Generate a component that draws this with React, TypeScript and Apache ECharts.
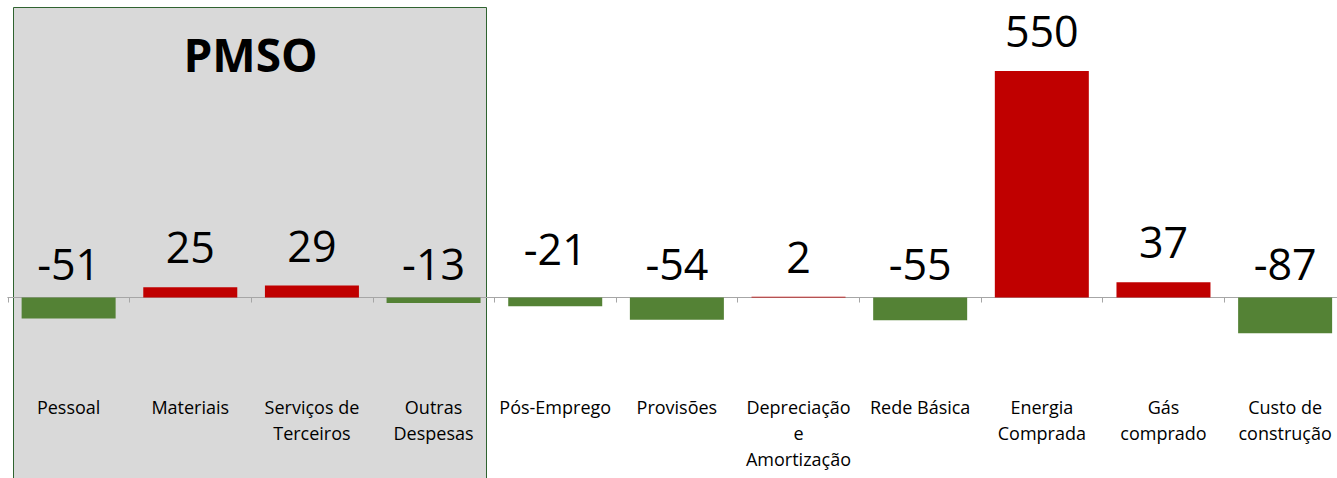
import React, { useEffect, useRef } from "react";
import * as echarts from "echarts";

const categories = [
  "Pessoal",
  "Materiais",
  "Serviços de\nTerceiros",
  "Outras\nDespesas",
  "Pós-Emprego",
  "Provisões",
  "Depreciação\ne\nAmortização",
  "Rede Básica",
  "Energia\nComprada",
  "Gás\ncomprado",
  "Custo de\nconstrução",
];
const values = [-51, 25, 29, -13, -21, -54, 2, -55, 550, 37, -87];
const groupTitle = "PMSO";

const RED = "#c00000";
const GREEN = "#548235";
const FONT = "'Open Sans', 'Noto Sans', sans-serif";

export default function App() {
  const ref = useRef<HTMLDivElement>(null);

  useEffect(() => {
    if (!ref.current) return;
    const chart = echarts.init(ref.current, null, { renderer: "svg" });

    const data = values.map((v, i) => {
      const item: any = {
        value: v,
        itemStyle: { color: v >= 0 ? RED : GREEN },
        label: { distance: v >= 0 ? 19 : 13 },
      };
      if (categories[i] === "Pós-Emprego") item.label = { distance: 28 };
      return item;
    });

    const catW = 121.65;
    chart.setOption({
      animation: false,
      backgroundColor: "#ffffff",
      grid: {
        left: 7.8,
        width: catW * categories.length,
        top: 50.5,
        height: 288.2,
        containLabel: false,
        outerBoundsMode: "none",
      },
      graphic: [
        {
          type: "rect",
          z: -10,
          silent: true,
          shape: { x: 13.5, y: 7.5, width: 473, height: 490 },
          style: { fill: "#d9d9d9", stroke: "#2f6330", lineWidth: 1 },
        },
        {
          type: "text",
          z: -9,
          silent: true,
          x: 250.5,
          y: 54,
          style: {
            text: groupTitle,
            font: `bold 46px ${FONT}`,
            fill: "#000000",
            align: "center",
            verticalAlign: "middle",
          },
        },
      ],
      xAxis: {
        type: "category",
        data: categories,
        axisLine: { show: true, onZero: true, lineStyle: { color: "#a6a6a6", width: 1 } },
        axisTick: { show: true, length: 5, alignWithLabel: false, interval: 0, lineStyle: { color: "#a6a6a6" } },
        axisLabel: {
          interval: 0,
          margin: 55,
          color: "#000000",
          fontFamily: FONT,
          fontSize: 18,
          lineHeight: 26,
          align: "center",
          verticalAlign: "top",
        },
        splitLine: { show: false },
      },
      yAxis: {
        type: "value",
        show: false,
        min: -100,
        max: 600,
        splitLine: { show: false },
      },
      series: [
        {
          type: "bar",
          data,
          barWidth: 94,
          label: {
            show: true,
            position: "top",
            formatter: "{c}",
            fontFamily: FONT,
            fontSize: 43,
            color: "#000000",
          },
        },
      ],
    });

    return () => chart.dispose();
  }, []);

  return (
    <div
      ref={ref}
      style={{ position: "fixed", left: 0, top: 0, width: 1337, height: 478, background: "#fff" }}
    />
  );
}
